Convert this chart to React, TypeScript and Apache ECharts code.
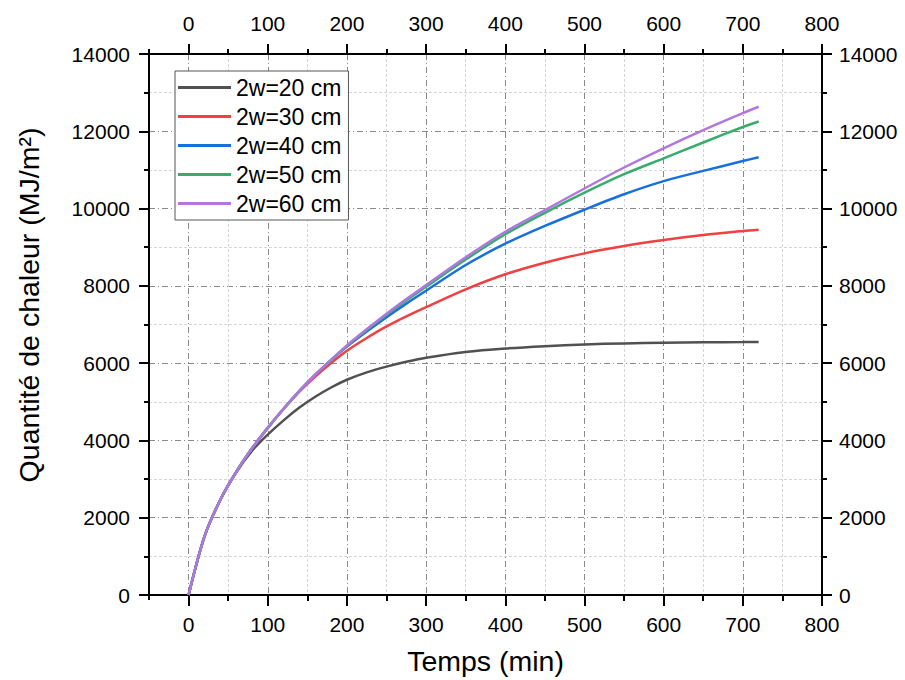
import React, { useEffect, useRef } from 'react';
import * as echarts from 'echarts';

// Time (min)
const times = [0, 20, 40, 60, 80, 100, 120, 140, 160, 180, 200, 225, 250, 275, 300, 350, 400, 450, 500, 550, 600, 650, 700, 720];

// Heat quantity (MJ/m2) per width
const w20 = [0, 1510, 2460, 3170, 3730, 4150, 4520, 4850, 5130, 5370, 5570, 5760, 5910, 6035, 6140, 6290, 6380, 6440, 6485, 6510, 6527, 6538, 6546, 6550];
const w30 = [0, 1510, 2460, 3180, 3790, 4325, 4815, 5260, 5650, 6000, 6320, 6650, 6950, 7210, 7450, 7910, 8300, 8600, 8841, 9031, 9186, 9316, 9420, 9455];
const w40 = [0, 1510, 2460, 3180, 3790, 4325, 4820, 5280, 5700, 6080, 6430, 6820, 7190, 7540, 7875, 8540, 9090, 9550, 9970, 10370, 10710, 10975, 11230, 11330];
const w50 = [0, 1510, 2460, 3180, 3790, 4325, 4820, 5280, 5700, 6080, 6450, 6860, 7250, 7620, 7975, 8680, 9335, 9890, 10410, 10890, 11300, 11710, 12110, 12254];
const w60 = [0, 1510, 2460, 3180, 3790, 4325, 4820, 5280, 5700, 6080, 6460, 6880, 7280, 7660, 8020, 8740, 9400, 9960, 10520, 11063, 11560, 12030, 12470, 12634];

const seriesNames = ['2w=20 cm', '2w=30 cm', '2w=40 cm', '2w=50 cm', '2w=60 cm'];
const seriesValues = [w20, w30, w40, w50, w60];
const seriesColors = ['#515151', '#F14040', '#1A6FDF', '#37AD6B', '#B177DE'];

const xAxisTitle = 'Temps (min)';
const yAxisTitle = 'Quantité de chaleur (MJ/m²)';

const FONT = '"Liberation Sans", Arial, Helvetica, sans-serif';

export default function App() {
  const ref = useRef<HTMLDivElement>(null);

  useEffect(() => {
    if (!ref.current) return;
    const chart = echarts.init(ref.current, null, { renderer: 'svg' });

    const gridL = 149;
    const gridR = 83;
    const gridT = 54;
    const gridB = 84;
    const plotW = 905 - gridL - gridR;
    const grid1Left = gridL + (50 / 850) * plotW;

    const black = { color: '#000', width: 2 };
    const majorSplit = { show: true, lineStyle: { color: '#8a8a8a', width: 1, type: [6, 3, 1, 3] } };
    const minorSplit = { show: true, lineStyle: { color: '#d6d6d6', width: 1, type: [3, 2] } };
    const labelStyle = { fontSize: 21, color: '#000', fontFamily: FONT };
    const plain = (v: number) => String(v);

    const option: any = {
      animation: false,
      backgroundColor: '#fff',
      textStyle: { fontFamily: FONT },
      grid: [
        { left: gridL, right: gridR, top: gridT, bottom: gridB },
        { left: grid1Left, right: gridR, top: gridT, bottom: gridB },
      ],
      graphic: [
        {
          type: 'text',
          x: 29,
          y: 305,
          rotation: Math.PI / 2,
          style: {
            text: yAxisTitle,
            fontSize: 28.5,
            fontFamily: FONT,
            fill: '#000',
            align: 'center',
            verticalAlign: 'middle',
          },
        },
      ],
      legend: {
        orient: 'vertical',
        left: 175,
        top: 71,
        padding: [5, 7, 5, 3],
        itemGap: 6,
        itemWidth: 53,
        itemHeight: 3,
        icon: 'rect',
        backgroundColor: '#fff',
        borderColor: '#555',
        borderWidth: 1,
        selectedMode: false,
        textStyle: { fontSize: 23, color: '#000', fontFamily: FONT },
        data: seriesNames,
      },
      xAxis: [
        {
          gridIndex: 0, type: 'value', position: 'bottom', min: -50, max: 800, interval: 50,
          axisLine: { show: true, onZero: false, lineStyle: black },
          axisTick: { show: true, inside: false, length: 5, lineStyle: black },
          axisLabel: { show: false }, splitLine: { show: false },
          name: xAxisTitle, nameLocation: 'middle', nameGap: 51,
          nameTextStyle: { fontSize: 28.5, color: '#000', fontFamily: FONT },
        },
        {
          gridIndex: 0, type: 'value', position: 'top', min: -50, max: 800, interval: 50,
          axisLine: { show: true, onZero: false, lineStyle: black },
          axisTick: { show: true, inside: false, length: 5, lineStyle: black },
          axisLabel: { show: false }, splitLine: { show: false },
        },
        {
          gridIndex: 1, type: 'value', position: 'bottom', min: 0, max: 800, interval: 100,
          axisLine: { show: false, onZero: false },
          axisTick: { show: true, inside: false, length: 10, lineStyle: black },
          minorTick: { show: true, splitNumber: 2, length: 5, lineStyle: black },
          axisLabel: { show: true, margin: 18, formatter: plain, ...labelStyle },
          splitLine: majorSplit,
          minorSplitLine: minorSplit,
        },
        {
          gridIndex: 1, type: 'value', position: 'top', min: 0, max: 800, interval: 100,
          axisLine: { show: false, onZero: false },
          axisTick: { show: true, inside: false, length: 10, lineStyle: black },
          minorTick: { show: true, splitNumber: 2, length: 5, lineStyle: black },
          axisLabel: { show: true, margin: 20, formatter: plain, ...labelStyle },
          splitLine: { show: false },
        },
      ],
      yAxis: [
        {
          gridIndex: 0, type: 'value', position: 'left', min: 0, max: 14000, interval: 2000,
          axisLine: { show: true, onZero: false, lineStyle: black },
          axisTick: { show: true, inside: false, length: 10, lineStyle: black },
          minorTick: { show: true, splitNumber: 2, length: 5, lineStyle: black },
          axisLabel: { show: true, margin: 19, formatter: plain, ...labelStyle },
          splitLine: majorSplit,
          minorSplitLine: minorSplit,
        },
        {
          gridIndex: 0, type: 'value', position: 'right', min: 0, max: 14000, interval: 2000,
          axisLine: { show: true, onZero: false, lineStyle: black },
          axisTick: { show: true, inside: false, length: 10, lineStyle: black },
          minorTick: { show: true, splitNumber: 2, length: 5, lineStyle: black },
          axisLabel: { show: true, margin: 17, formatter: plain, ...labelStyle },
          splitLine: { show: false },
        },
        { gridIndex: 1, type: 'value', show: false, min: 0, max: 14000 },
      ],
      series: seriesNames.map((name, i) => ({
        type: 'line',
        name,
        xAxisIndex: 0,
        yAxisIndex: 0,
        symbol: 'none',
        smooth: 0.3,
        z: 3 + i,
        lineStyle: { width: 2.5, color: seriesColors[i] },
        itemStyle: { color: seriesColors[i] },
        data: times.map((t, j) => [t, seriesValues[i][j]]),
      })),
    };

    chart.setOption(option);
    return () => chart.dispose();
  }, []);

  return (
    <div
      ref={ref}
      style={{ position: 'fixed', left: 0, top: 0, width: 905, height: 680 }}
    />
  );
}
